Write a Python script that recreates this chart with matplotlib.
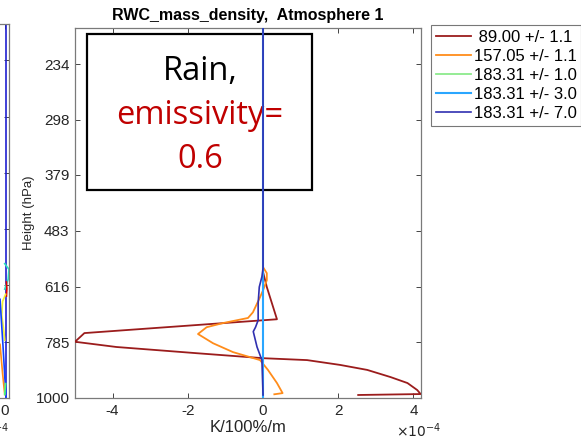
import matplotlib
matplotlib.use('Agg')
import matplotlib.pyplot as plt
from matplotlib.patches import Rectangle
from matplotlib.ticker import FixedLocator, FixedFormatter, NullLocator, FuncFormatter

plt.rcParams.update({
    'font.family': ['Liberation Sans', 'DejaVu Sans'],
    'axes.unicode_minus': False,
    'xtick.direction': 'in',
    'ytick.direction': 'in',
    'xtick.top': True,
    'ytick.right': True,
    'xtick.color': '#262626',
    'ytick.color': '#262626',
    'axes.edgecolor': '#7a7a7a',
})

SCALE = 1e-4

# --- main panel data: pressure (hPa) and jacobian (x 1e-4 K/100%/m) ---
p_89 = [200, 578, 617, 710, 754, 783, 801, 823, 841, 848, 866, 885, 913, 937, 966, 983, 987]
v_89 = [0, 0, 0.1, 0.37, -4.75, -5.0, -3.9, -1.76, 0, 1.17, 2.05, 2.77, 3.39, 3.84, 4.1, 4.19, 2.53]

p_157 = [200, 566, 581, 599, 626, 645, 689, 706, 722, 735, 757, 788, 819, 848, 885, 937, 979, 984]
v_157 = [0, 0, 0.1, 0.1, 0, -0.08, -0.27, -0.4, -1.07, -1.5, -1.73, -1.33, -0.8, -0.08, 0.13, 0.37, 0.52, 0.3]

p_183_1 = [200, 1000]
v_183_1 = [0, 0]

p_183_3 = [200, 1000]
v_183_3 = [0, 0]

p_183_7 = [200, 569, 590, 617, 662, 713, 735, 749, 801, 848, 987]
v_183_7 = [0, 0, -0.03, -0.1, -0.13, -0.13, -0.2, -0.26, -0.16, -0.03, 0]

labels = [' 89.00 +/- 1.1', '157.05 +/- 1.1', '183.31 +/- 1.0', '183.31 +/- 3.0', '183.31 +/- 7.0']
colors = ['#9b1c1c', '#ff8c1a', '#8ceb8c', '#2aa6ff', '#3030b0']

ytick_vals = [234, 298, 379, 483, 616, 785, 1000]
xtick_vals = [-4, -2, 0, 2, 4]

# --- neighbouring (cut off) panel data ---
left_lines = [
    ([200, 1000], [0.03, 0.03], '#2020d0'),
    ([561, 575, 600, 626], [0.0, 0.1, 0.08, 0.0], '#30e0c0'),
    ([607, 625, 645], [0.04, 0.05, 0.04], '#e00000'),
    ([640, 660, 700, 740, 780], [0.02, -0.05, -0.07, -0.03, 0.0], '#f0f030'),
    ([654, 800, 1000], [-0.11, -0.04, 0.03], '#1040ff'),
    ([794, 900, 985], [-0.11, -0.05, 0.0], '#ff8c1a'),
    ([940, 985], [0.02, 0.0], '#40ff80'),
]

W, H = 581, 436
fig = plt.figure(figsize=(W / 100, H / 100), dpi=100)


def style_axes(a):
    a.set_yscale('log')
    a.set_ylim(1000, 200)
    a.yaxis.set_major_locator(FixedLocator(ytick_vals))
    a.yaxis.set_major_formatter(FixedFormatter([str(v) for v in ytick_vals]))
    a.yaxis.set_minor_locator(NullLocator())
    a.tick_params(length=3.5, width=0.6, labelsize=11, pad=4)
    for s in a.spines.values():
        s.set_linewidth(0.9)


def x_formatter():
    f = FuncFormatter(lambda x, pos: '%g' % round(x / SCALE, 6))
    f.set_offset_string(r'$\times10^{-4}$')
    return f


# left partial panel
axl = fig.add_axes([-337 / W, 38 / H, 346 / W, 374 / H])
style_axes(axl)
for p, v, c in left_lines:
    axl.plot([x * SCALE for x in v], p, color=c, lw=1.2)
axl.set_xlim(-8e-4, 0.1e-4)
axl.set_xticks([-4e-4, 0])
axl.xaxis.set_major_formatter(x_formatter())
axl.xaxis.get_offset_text().set_fontsize(10)
axl.set_yticklabels([])

# main panel
ax = fig.add_axes([75 / W, 38 / H, 346 / W, 370 / H])
style_axes(ax)
series = [(p_89, v_89), (p_157, v_157), (p_183_1, v_183_1), (p_183_3, v_183_3), (p_183_7, v_183_7)]
widths = [1.3, 1.3, 1.3, 1.5, 1.2]
for (p, v), lab, c, lw in zip(series, labels, colors, widths):
    ax.plot([x * SCALE for x in v], p, color=c, lw=lw, label=lab, zorder=3)
ax.set_xlim(-5e-4, 4.2e-4)
ax.set_xticks([x * SCALE for x in xtick_vals])
ax.xaxis.set_major_formatter(x_formatter())
off = ax.xaxis.get_offset_text()
off.set_fontsize(10)
off.set_color('#262626')
off.set_horizontalalignment('center')
off.set_x(0.994)
ax.set_xlabel('K/100%/m', fontsize=12, color='#262626', labelpad=2)
ax.set_ylabel('Height (hPa)', fontsize=9.5, color='#262626', labelpad=0)
ax.set_title('RWC_mass_density,  Atmosphere 1', fontsize=11.5, fontweight='bold', pad=6)

# annotation box
box = Rectangle((87 / W, 1 - 190 / H), 225 / W, 156 / H, transform=fig.transFigure,
                fill=False, edgecolor='black', lw=1.6, zorder=1, clip_on=False)
ax.add_patch(box)
tkw = dict(transform=fig.transFigure, ha='center', va='center', family=['Open Sans', 'DejaVu Sans'],
           fontsize=23.5, zorder=1, clip_on=False)
ax.text(200 / W, 1 - 72 / H, 'Rain,', color='black', **tkw)
ax.text(200 / W, 1 - 115 / H, 'emissivity=', color='#c00000', **tkw)
ax.text(200 / W, 1 - 159 / H, '0.6', color='#c00000', **tkw)

leg = fig.legend(loc='upper left', bbox_to_anchor=(431 / W, 1 - 25 / H), fontsize=12,
                 frameon=True, fancybox=False, borderaxespad=0, borderpad=0.3,
                 handlelength=2.1, handletextpad=0.15, labelspacing=0.24)
leg.get_frame().set_edgecolor('#555555')
leg.get_frame().set_linewidth(0.8)

fig.savefig('out.png', dpi=100)
